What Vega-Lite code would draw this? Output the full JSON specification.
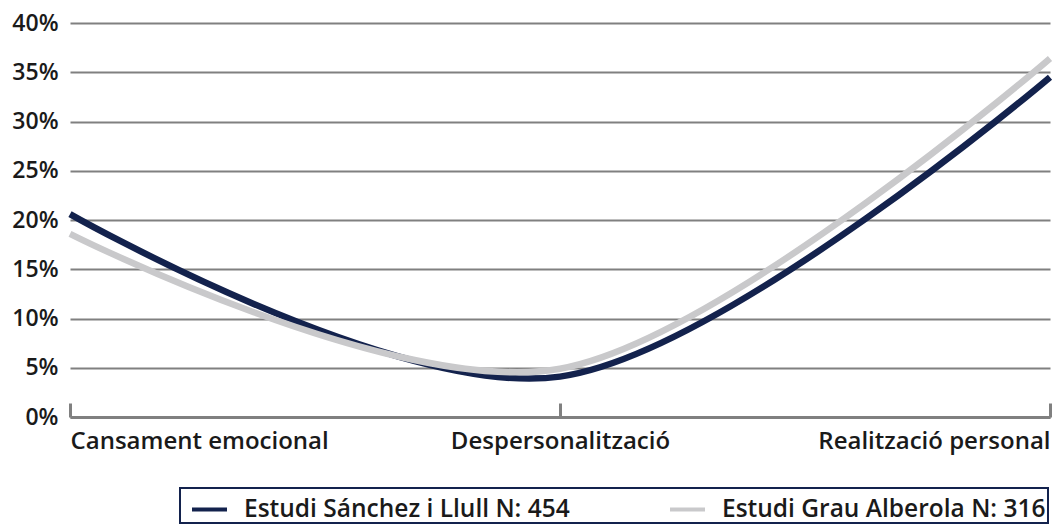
{
  "$schema": "https://vega.github.io/schema/vega-lite/v6.json",
  "width": 980,
  "height": 394,
  "autosize": {"type": "none"},
  "padding": {"left": 70, "top": 23, "right": 10, "bottom": 111},
  "background": "white",
  "config": {
    "view": {"stroke": null},
    "font": "Open Sans",
    "axis": {"labelFont": "Open Sans", "labelColor": "#1a1a1a", "labelFontWeight": 600},
    "legend": {"labelFont": "Open Sans", "labelColor": "#1a1a1a", "labelFontWeight": 600}
  },
  "data": {
    "values": [
      {"cat": "Cansament emocional", "serie": "Estudi Sánchez i Llull N: 454", "value": 0.206},
      {"cat": "Despersonalització", "serie": "Estudi Sánchez i Llull N: 454", "value": 0.041},
      {"cat": "Realització personal", "serie": "Estudi Sánchez i Llull N: 454", "value": 0.345},
      {"cat": "Cansament emocional", "serie": "Estudi Grau Alberola N: 316", "value": 0.186},
      {"cat": "Despersonalització", "serie": "Estudi Grau Alberola N: 316", "value": 0.049},
      {"cat": "Realització personal", "serie": "Estudi Grau Alberola N: 316", "value": 0.364}
    ]
  },
  "mark": {"type": "line", "interpolate": "cardinal", "strokeWidth": 6.5, "strokeCap": "butt"},
  "encoding": {
    "x": {
      "field": "cat",
      "type": "nominal",
      "sort": ["Cansament emocional", "Despersonalització", "Realització personal"],
      "scale": {"type": "point", "padding": 0},
      "axis": {
        "title": null,
        "labelAngle": 0,
        "labelFontSize": 24,
        "labelFlush": true,
        "labelLimit": 400,
        "labelPadding": 26,
        "domainColor": "#808080",
        "domainWidth": 3,
        "tickColor": "#808080",
        "tickWidth": 3,
        "tickSize": -14,
        "grid": false
      }
    },
    "y": {
      "field": "value",
      "type": "quantitative",
      "scale": {"domain": [0, 0.4], "nice": false},
      "axis": {
        "title": null,
        "values": [0, 0.05, 0.1, 0.15, 0.2, 0.25, 0.3, 0.35, 0.4],
        "format": ".0%",
        "labelFontSize": 23,
        "labelPadding": 12,
        "domain": false,
        "ticks": false,
        "grid": true,
        "gridColor": "#808080",
        "gridWidth": 2
      }
    },
    "color": {
      "field": "serie",
      "type": "nominal",
      "scale": {
        "domain": ["Estudi Sánchez i Llull N: 454", "Estudi Grau Alberola N: 316"],
        "range": ["#13224d", "#c9c9cb"]
      },
      "legend": {
        "title": null,
        "orient": "none",
        "legendX": 110,
        "legendY": 465,
        "direction": "horizontal",
        "columns": 2,
        "symbolType": "stroke",
        "symbolSize": 1225,
        "symbolStrokeWidth": 4,
        "symbolOffset": 8,
        "labelFontSize": 24.5,
        "labelOffset": 15,
        "labelLimit": 500,
        "columnPadding": 90,
        "padding": 2,
        "strokeColor": "#13224d",
        "encode": {"legend": {"update": {"strokeWidth": {"value": 2}}}}
      }
    }
  }
}
